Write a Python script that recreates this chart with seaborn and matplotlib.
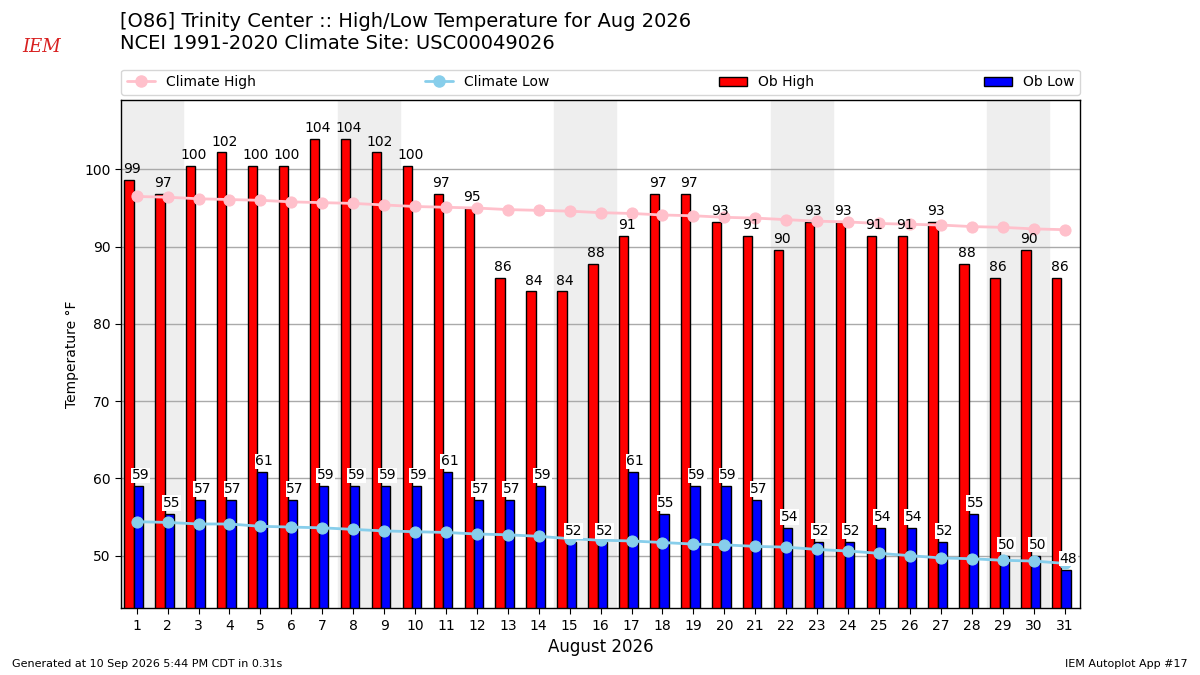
import pandas as pd
import matplotlib
matplotlib.use("Agg")
import matplotlib.pyplot as plt
import seaborn as sns
from matplotlib.lines import Line2D
from matplotlib.patches import Patch

# ---- data ----
days = list(range(1, 32))
ob_high = [98.6, 96.8, 100.4, 102.2, 100.4, 100.4, 104.0, 104.0, 102.2, 100.4,
           96.8, 95.0, 86.0, 84.2, 84.2, 87.8, 91.4, 96.8, 96.8, 93.2,
           91.4, 89.6, 93.2, 93.2, 91.4, 91.4, 93.2, 87.8, 86.0, 89.6, 86.0]
ob_low = [59.0, 55.4, 57.2, 57.2, 60.8, 57.2, 59.0, 59.0, 59.0, 59.0,
          60.8, 57.2, 57.2, 59.0, 51.8, 51.8, 60.8, 55.4, 59.0, 59.0,
          57.2, 53.6, 51.8, 51.8, 53.6, 53.6, 51.8, 55.4, 50.0, 50.0, 48.2]
clim_high = [96.5, 96.4, 96.2, 96.1, 96.0, 95.8, 95.7, 95.6, 95.4, 95.2,
             95.1, 95.0, 94.8, 94.7, 94.6, 94.4, 94.3, 94.1, 94.0, 93.8,
             93.7, 93.5, 93.3, 93.2, 93.0, 92.9, 92.8, 92.6, 92.5, 92.3, 92.2]
clim_low = [54.4, 54.3, 54.1, 54.1, 53.8, 53.7, 53.6, 53.4, 53.2, 53.1,
            53.0, 52.8, 52.7, 52.5, 52.2, 52.0, 51.9, 51.7, 51.5, 51.4,
            51.2, 51.1, 50.8, 50.6, 50.3, 50.0, 49.7, 49.6, 49.4, 49.3, 49.0]

df = pd.DataFrame({"day": days, "high": ob_high, "low": ob_low,
                   "chigh": clim_high, "clow": clim_low})
df["date"] = pd.to_datetime({"year": 2026, "month": 8, "day": df["day"]})

sns.set_style("white")
plt.rcParams["font.family"] = ["DejaVu Sans"]
for k in ["text.color", "axes.labelcolor", "xtick.color", "ytick.color"]:
    plt.rcParams[k] = "black"

fig = plt.figure(figsize=(12, 6.75), dpi=100)
ax = fig.add_axes([0.101, 0.099, 0.799, 0.753])

# weekend shading (Saturday + Sunday)
for d in df.loc[df["date"].dt.weekday == 5, "day"]:
    ax.axvspan(d - 0.5, d + 1.5, color="#EEEEEE", zorder=0)

ax.grid(axis="y", color="#AAAAAA", lw=1, zorder=1)
ax.set_axisbelow(True)

ax.bar(df["day"] - 0.4, df["high"], width=0.3, align="edge", fc="r", ec="k", zorder=2)
ax.bar(df["day"] - 0.1, df["low"], width=0.3, align="edge", fc="b", ec="k", zorder=2)

sns.lineplot(data=df, x="day", y="chigh", color="pink", marker="o", markersize=8,
             markeredgecolor="pink", lw=2, ax=ax, zorder=3)
sns.lineplot(data=df, x="day", y="clow", color="skyblue", marker="o", markersize=8,
             markeredgecolor="skyblue", lw=2, ax=ax, zorder=3)

for _, row in df.iterrows():
    ax.text(row["day"] - 0.15, row["high"] + 0.5, f"{row['high']:.0f}",
            ha="center", va="bottom", fontsize=10, zorder=4)
    ax.text(row["day"] + 0.12, row["low"] + 0.5, f"{row['low']:.0f}",
            ha="center", va="bottom", fontsize=10, zorder=4,
            bbox=dict(fc="white", ec="none", pad=0.5))

ax.set_xlim(0.5, 31.5)
ax.set_ylim(min(ob_low) - 5, max(ob_high) + 5)
ax.set_xticks(days)
ax.tick_params(labelsize=10, length=4, left=True, bottom=True)
ax.set_xlabel("August 2026", fontsize=12)
ax.set_ylabel("Temperature \u00b0F", fontsize=10)
for s in ax.spines.values():
    s.set_color("black")
    s.set_linewidth(1)

handles = [
    Line2D([], [], color="pink", marker="o", markersize=8, lw=2, label="Climate High"),
    Line2D([], [], color="skyblue", marker="o", markersize=8, lw=2, label="Climate Low"),
    Patch(fc="r", ec="k", label="Ob High"),
    Patch(fc="b", ec="k", label="Ob Low"),
]
ax.legend(handles=handles, loc="lower left", bbox_to_anchor=(0, 1.01, 1, 0.05),
          mode="expand", ncol=4, borderaxespad=0, fontsize=10, frameon=True)

fig.text(0.1, 0.982, "[O86] Trinity Center :: High/Low Temperature for Aug 2026\n"
         "NCEI 1991-2020 Climate Site: USC00049026", fontsize=14, va="top", ha="left")
fig.text(0.035, 0.93, "IEM", color="#D82020", fontsize=13, style="italic",
         family="DejaVu Serif", ha="center", va="center")
fig.text(0.01, 0.012, "Generated at 10 Sep 2026 5:44 PM CDT in 0.31s", fontsize=8)
fig.text(0.99, 0.012, "IEM Autoplot App #17", fontsize=8, ha="right")

fig.savefig("out.png", dpi=100)
